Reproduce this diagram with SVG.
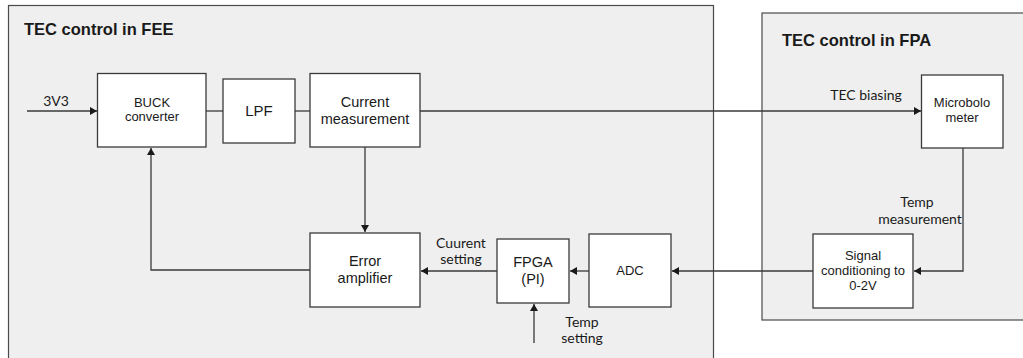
<svg xmlns="http://www.w3.org/2000/svg" width="1023" height="358" viewBox="0 0 1023 358">
<style>
.panel{fill:#efefef;stroke:#4a4a4a;stroke-width:1.2}
.box{fill:#ffffff;stroke:#3a3a3a;stroke-width:1.3}
.title{font-family:"Liberation Sans",Arial,sans-serif;font-weight:bold;font-size:16.5px;fill:#1a1a1a}
.a{font-family:"Liberation Sans",Arial,sans-serif;fill:#1a1a1a;text-anchor:middle}
.c{font-family:Lato,"Liberation Sans",sans-serif;font-size:14px;fill:#1a1a1a;text-anchor:middle}
.ln{fill:none;stroke:#3a3a3a;stroke-width:1.3}
</style>
<defs>
<marker id="arr" markerUnits="userSpaceOnUse" markerWidth="8" markerHeight="10" refX="7" refY="5" orient="auto">
<path d="M0,1 L7,5 L0,9 Z" fill="#1a1a1a"/>
</marker>
</defs>
<rect width="1023" height="358" fill="#ffffff"/>
<g id="panel-fee">
<rect class="panel" x="8.5" y="5.5" width="705" height="370"/>
<text class="title" x="24" y="35">TEC control in FEE</text>
</g>
<g id="panel-fpa">
<rect class="panel" x="762" y="13" width="280" height="307"/>
<text class="title" x="782" y="46">TEC control in FPA</text>
</g>
<g id="connectors">
<path class="ln" d="M27,111 H97" marker-end="url(#arr)"/>
<path class="ln" d="M206,111 H223"/>
<path class="ln" d="M295,111 H310"/>
<path class="ln" d="M420,111 H921" marker-end="url(#arr)"/>
<path class="ln" d="M963,148 V271 H914" marker-end="url(#arr)"/>
<path class="ln" d="M813,271 H672" marker-end="url(#arr)"/>
<path class="ln" d="M589,271 H570" marker-end="url(#arr)"/>
<path class="ln" d="M497,271 H421" marker-end="url(#arr)"/>
<path class="ln" d="M534,343 V304" marker-end="url(#arr)"/>
<path class="ln" d="M365,147 V232" marker-end="url(#arr)"/>
<path class="ln" d="M310,270 H151 V148" marker-end="url(#arr)"/>
<text class="c" x="56" y="106">3V3</text>
<text class="c" x="866" y="100">TEC biasing</text>
<text class="c" x="917" y="207">Temp</text>
<text class="c" x="920" y="224">measurement</text>
<text class="c" x="461" y="248">Cuurent</text>
<text class="c" x="461" y="264">setting</text>
<text class="c" x="582" y="327">Temp</text>
<text class="c" x="582" y="343">setting</text>
</g>
<g id="buck">
<rect class="box" x="97.5" y="73.5" width="108.5" height="73.5"/>
<text class="a" font-size="13" x="152" y="107">BUCK</text>
<text class="a" font-size="13" x="152" y="121">converter</text>
</g>
<g id="lpf">
<rect class="box" x="223" y="79" width="72" height="64"/>
<text class="a" font-size="15" x="259" y="116">LPF</text>
</g>
<g id="current-measurement">
<rect class="box" x="310" y="73.5" width="110" height="73.5"/>
<text class="a" font-size="14.5" x="365" y="107">Current</text>
<text class="a" font-size="14.5" x="365" y="124">measurement</text>
</g>
<g id="microbolometer">
<rect class="box" x="921.5" y="75" width="81.5" height="73"/>
<text class="a" font-size="13" x="962" y="107">Microbolo</text>
<text class="a" font-size="13" x="962" y="122">meter</text>
</g>
<g id="signal-conditioning">
<rect class="box" x="813" y="234" width="100" height="74"/>
<text class="a" font-size="13" x="863" y="260">Signal</text>
<text class="a" font-size="13" x="863" y="275">conditioning to</text>
<text class="a" font-size="13" x="863" y="290">0-2V</text>
</g>
<g id="adc">
<rect class="box" x="589" y="234" width="82" height="73"/>
<text class="a" font-size="13" x="630" y="275">ADC</text>
</g>
<g id="fpga">
<rect class="box" x="497" y="239" width="72" height="64"/>
<text class="a" font-size="14.5" x="533" y="267">FPGA</text>
<text class="a" font-size="14.5" x="533" y="284">(PI)</text>
</g>
<g id="error-amplifier">
<rect class="box" x="310" y="233" width="110" height="74"/>
<text class="a" font-size="14.5" x="365" y="266">Error</text>
<text class="a" font-size="14.5" x="365" y="283">amplifier</text>
</g>
</svg>
